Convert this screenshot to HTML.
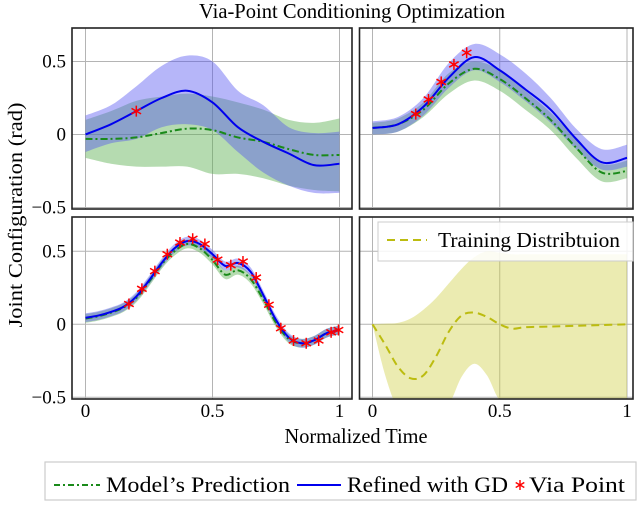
<!DOCTYPE html>
<html><head><meta charset="utf-8"><style>
body{margin:0;background:#fff;}
svg{display:block;font-family:"Liberation Serif",serif;}
</style></head><body>
<svg id="c" width="640" height="508" viewBox="0 0 640 508">
<text x="352" y="18" font-size="21" text-anchor="middle" textLength="306" lengthAdjust="spacingAndGlyphs">Via-Point Conditioning Optimization</text>
<text transform="translate(22,215) rotate(-90)" font-size="20" text-anchor="middle" textLength="225" lengthAdjust="spacingAndGlyphs">Joint Configuration (rad)</text>
<text x="356" y="443" font-size="21" text-anchor="middle" textLength="143" lengthAdjust="spacingAndGlyphs">Normalized Time</text>
<g>
<rect x="45" y="462" width="591" height="38" fill="#fff" stroke="#ccc" stroke-width="1.2"/>
<line x1="54" y1="485" x2="100" y2="485" stroke="#1a8a1a" stroke-width="2" stroke-dasharray="6,3,2,3"/>
<text x="106" y="492" font-size="22" textLength="184" lengthAdjust="spacingAndGlyphs">Model’s Prediction</text>
<line x1="297" y1="485" x2="341" y2="485" stroke="#0000ee" stroke-width="2"/>
<text x="347" y="492" font-size="22" textLength="161" lengthAdjust="spacingAndGlyphs">Refined with GD</text>
<g stroke="#f00" stroke-width="1.4"><line x1="520" y1="480" x2="520" y2="490"/><line x1="515.7" y1="482.5" x2="524.3" y2="487.5"/><line x1="515.7" y1="487.5" x2="524.3" y2="482.5"/></g>
<text x="529" y="492" font-size="22" textLength="96" lengthAdjust="spacingAndGlyphs">Via Point</text>
</g>
</svg>
<script>
// Top-left panel
const tlX=[0,0.1,0.2,0.3,0.4,0.5,0.6,0.7,0.8,0.9,1];
const tlBlue=[0,0.07,0.16,0.25,0.30,0.22,0.05,-0.05,-0.13,-0.21,-0.20];
const tlBlueUp=[0.13,0.2,0.33,0.47,0.54,0.5,0.3,0.2,0.05,0.01,0.02];
const tlBlueLo=[-0.12,-0.06,-0.03,0.05,0.07,0.03,-0.12,-0.26,-0.35,-0.4,-0.4];
const tlGreen=[-0.03,-0.03,-0.02,0.01,0.04,0.03,-0.02,-0.05,-0.1,-0.14,-0.14];
const tlGreenUp=[0.1,0.16,0.23,0.26,0.28,0.26,0.22,0.17,0.1,0.08,0.11];
const tlGreenLo=[-0.16,-0.2,-0.22,-0.22,-0.22,-0.27,-0.27,-0.3,-0.35,-0.38,-0.39];
const tlViaX=[0.2];
const tlViaY=[0.16];
// Top-right panel
const trX=[0,0.1,0.2,0.3,0.4,0.5,0.6,0.7,0.8,0.9,1];
const trBlue=[0.045,0.07,0.19,0.39,0.53,0.44,0.31,0.17,-0.03,-0.19,-0.16];
const trBlueUp=[0.09,0.12,0.25,0.49,0.62,0.55,0.42,0.25,0.04,-0.1,-0.07];
const trBlueLo=[0.0,0.02,0.13,0.32,0.44,0.36,0.23,0.08,-0.1,-0.24,-0.22];
const trGreen=[0.045,0.07,0.17,0.35,0.45,0.38,0.25,0.1,-0.09,-0.26,-0.25];
const trGreenUp=[0.08,0.11,0.22,0.42,0.5,0.44,0.3,0.15,-0.03,-0.2,-0.18];
const trGreenLo=[0.0,0.02,0.12,0.28,0.37,0.3,0.17,0.03,-0.16,-0.32,-0.3];
const trViaX=[0.17,0.22,0.27,0.32,0.37];
const trViaY=[0.14,0.24,0.36,0.48,0.56];
// Bottom-left panel
const blX=[0,0.05,0.1,0.15,0.2,0.25,0.3,0.35,0.4,0.45,0.5,0.55,0.6,0.65,0.7,0.75,0.8,0.85,0.9,0.95,1];
const blBlue=[0.045,0.06,0.085,0.12,0.19,0.3,0.42,0.52,0.57,0.55,0.48,0.4,0.42,0.36,0.2,0.03,-0.09,-0.13,-0.11,-0.06,-0.04];
const blGreen=[0.04,0.055,0.08,0.115,0.18,0.29,0.41,0.5,0.55,0.52,0.44,0.34,0.37,0.31,0.17,0.01,-0.1,-0.13,-0.11,-0.06,-0.04];
const blViaX=[0.171,0.222,0.273,0.322,0.372,0.422,0.47,0.52,0.572,0.62,0.672,0.722,0.769,0.819,0.869,0.918,0.967,0.996];
const blViaY=[0.139,0.243,0.364,0.48,0.56,0.586,0.55,0.443,0.405,0.43,0.32,0.134,-0.027,-0.111,-0.13,-0.111,-0.055,-0.039];
// Bottom-right panel
const brX=[0,0.05,0.1,0.15,0.2,0.25,0.3,0.35,0.4,0.45,0.5,0.55,0.6,0.7,0.8,0.9,1];
const brMean=[0,-0.14,-0.29,-0.37,-0.35,-0.22,-0.05,0.06,0.08,0.05,0.0,-0.03,-0.02,-0.015,-0.01,-0.005,0];
const brUp=[0,0.005,0.01,0.04,0.1,0.18,0.28,0.38,0.46,0.5,0.49,0.48,0.48,0.48,0.48,0.48,0.48];
const brLo=[0,-0.35,-0.58,-0.62,-0.62,-0.6,-0.55,-0.36,-0.27,-0.35,-0.52,-0.52,-0.52,-0.52,-0.52,-0.52,-0.52];

const NS='http://www.w3.org/2000/svg';
const svg=document.getElementById('c');
function mk(tag,attrs,parent){const e=document.createElementNS(NS,tag);for(const k in attrs)e.setAttribute(k,attrs[k]);(parent||svg).appendChild(e);return e;}
function smooth(pts){let d='M'+pts[0][0]+','+pts[0][1];for(let i=0;i<pts.length-1;i++){const p0=pts[Math.max(i-1,0)],p1=pts[i],p2=pts[i+1],p3=pts[Math.min(i+2,pts.length-1)];d+=' C'+(p1[0]+(p2[0]-p0[0])/6)+','+(p1[1]+(p2[1]-p0[1])/6)+' '+(p2[0]-(p3[0]-p1[0])/6)+','+(p2[1]-(p3[1]-p1[1])/6)+' '+p2[0]+','+p2[1];}return d;}
function panel(name,fx,fy,fw,fh,x0px,x1px,y0px,showYT,showXT){
  const g=mk('g',{});
  
  
  const sx=v=>x0px+v*(x1px-x0px), sy=v=>y0px-v*146;
  const cid='clip-'+name;
  const cp=mk('clipPath',{id:cid},g);mk('rect',{x:fx,y:fy,width:fw,height:fh},cp);
  const grid=mk('g',{stroke:'#b4b4b4','stroke-width':1},g);
  
  
  [0,0.5,1].forEach(v=>mk('line',{x1:sx(v),x2:sx(v),y1:fy,y2:fy+fh},grid));
  [-0.5,0,0.5].forEach(v=>mk('line',{x1:fx,x2:fx+fw,y1:sy(v),y2:sy(v)},grid));
  const plot=mk('g',{'clip-path':'url(#'+cid+')'},g);
  if(showYT)[-0.5,0,0.5].forEach(v=>{const t=mk('text',{x:fx-6,y:sy(v)+6,'font-size':19,'text-anchor':'end'},g);t.textContent=v<0?'\u22120.5':String(v);
    
    });
  if(showXT)[0,0.5,1].forEach(v=>{const t=mk('text',{x:sx(v),y:fy+fh+18,'font-size':19,'text-anchor':'middle'},g);t.textContent=String(v);
    
    });
  const fr=mk('rect',{x:fx,y:fy,width:fw,height:fh,fill:'none',stroke:'#222','stroke-width':1.6},g);
  
  
  return {plot,sx,sy,g};
}
function band(P,xs,up,lo,fill,nm){
  const top=xs.map((x,i)=>[P.sx(x),P.sy(up[i])]);
  const bot=xs.map((x,i)=>[P.sx(x),P.sy(lo[i])]).reverse();
  const d=smooth(top)+' L'+smooth(bot).slice(1)+' Z';
  const p=mk('path',{d:d,fill:fill,stroke:'none'},P.plot);
  
  
}
function line(P,xs,ys,stroke,dash,nm){
  const p=mk('path',{d:smooth(xs.map((x,i)=>[P.sx(x),P.sy(ys[i])])),fill:'none',stroke:stroke,'stroke-width':2,'stroke-dasharray':dash||'none'},P.plot);
  
  
}
function via(P,xs,ys){
  xs.forEach((x,i)=>{
    const cx=P.sx(x),cy=P.sy(ys[i]),r=5.5;
    const s=mk('g',{stroke:'#f00','stroke-width':1.5},P.g);
    
    
    mk('line',{x1:cx,y1:cy-r,x2:cx,y2:cy+r},s);
    mk('line',{x1:cx-r*0.866,y1:cy-r/2,x2:cx+r*0.866,y2:cy+r/2},s);
    mk('line',{x1:cx-r*0.866,y1:cy+r/2,x2:cx+r*0.866,y2:cy-r/2},s);
  });
}
const offs=(a,d)=>a.map(v=>v+d);
// TL
let P=panel('panel-top-left',72,28,280,181,85.5,339.5,134.5,true,false);
band(P,tlX,tlGreenUp,tlGreenLo,'rgba(90,175,80,0.45)','green-band');
band(P,tlX,tlBlueUp,tlBlueLo,'rgba(80,80,240,0.42)','blue-band');
line(P,tlX,tlGreen,'#1a8a1a','7,3,2,3','model-prediction-line');
line(P,tlX,tlBlue,'#0000ee','','refined-line');
via(P,tlViaX,tlViaY);
// TR
P=panel('panel-top-right',359.5,28,273.5,181,372.5,627,134.5,false,false);
band(P,trX,trGreenUp,trGreenLo,'rgba(90,175,80,0.45)','green-band');
band(P,trX,trBlueUp,trBlueLo,'rgba(80,80,240,0.42)','blue-band');
line(P,trX,trGreen,'#1a8a1a','7,3,2,3','model-prediction-line');
line(P,trX,trBlue,'#0000ee','','refined-line');
via(P,trViaX,trViaY);
// BL
P=panel('panel-bottom-left',72,217,280,182,85.5,339.5,324.3,true,true);
band(P,blX,offs(blGreen,0.03),offs(blGreen,-0.03),'rgba(90,175,80,0.45)','green-band');
band(P,blX,offs(blBlue,0.03),offs(blBlue,-0.03),'rgba(80,80,240,0.42)','blue-band');
line(P,blX,blGreen,'#1a8a1a','7,3,2,3','model-prediction-line');
line(P,blX,blBlue,'#0000ee','','refined-line');
via(P,blViaX,blViaY);
// BR
P=panel('panel-bottom-right',359.5,217,273.5,182,372.5,627,324.3,false,true);
band(P,brX,brUp,brLo,'rgba(205,205,60,0.4)','training-band');
line(P,brX,brMean,'#bcbc10','8,5','training-mean-line');
const lg=mk('g',{},P.g);


mk('rect',{x:378,y:222,width:255,height:39,fill:'rgba(255,255,255,0.85)',stroke:'#ccc'},lg);
mk('line',{x1:387,y1:240,x2:427,y2:240,stroke:'#bcbc10','stroke-width':2,'stroke-dasharray':'8,5'},lg);
const lt=mk('text',{x:438,y:247,'font-size':21,textLength:182,lengthAdjust:'spacingAndGlyphs'},lg);lt.textContent='Training Distribtuion';
</script>
</body></html>
